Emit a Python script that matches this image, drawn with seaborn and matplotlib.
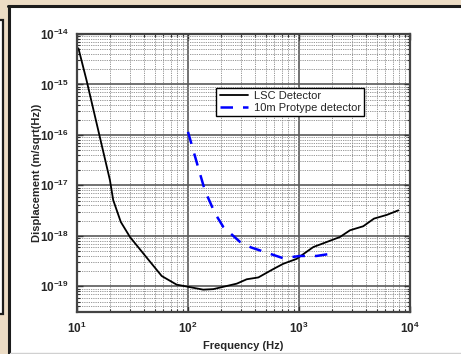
import numpy as np
import pandas as pd
import seaborn as sns
import matplotlib.pyplot as plt
from matplotlib.ticker import LogLocator, FuncFormatter, NullFormatter
from matplotlib.patches import Rectangle
from matplotlib.lines import Line2D

# LSC detector curve
lsc_freq = [10.3, 12.2, 19.8, 21.2, 24.8, 30, 39.5, 58, 79, 100, 137, 169,
            275, 338, 430, 587, 722, 952, 1345, 2340, 2880, 3790, 4740, 6170, 7850]
lsc_disp = [5.2e-15, 1.2e-15, 1.27e-17, 5.1e-18, 1.89e-18, 9.5e-19, 4.5e-19, 1.6e-19,
            1.08e-19, 9.8e-20, 8.6e-20, 8.8e-20, 1.13e-19, 1.38e-19, 1.5e-19, 2.2e-19,
            2.8e-19, 3.5e-19, 6.0e-19, 9.5e-19, 1.29e-18, 1.55e-18, 2.2e-18, 2.6e-18, 3.2e-18]

# 10m prototype detector curve
proto_freq = [100, 124, 142, 175, 208, 294, 370, 476, 722, 1020, 1440, 2040]
proto_disp = [1.15e-16, 2.2e-17, 7.9e-18, 2.8e-18, 1.5e-18, 7.6e-19, 5.9e-19,
              4.9e-19, 3.6e-19, 4.0e-19, 4.0e-19, 4.5e-19]

sns.set_style("ticks")
plt.rcParams['font.family'] = ['Liberation Sans', 'DejaVu Sans']
plt.rcParams['mathtext.fontset'] = 'custom'
plt.rcParams['mathtext.rm'] = 'Liberation Sans:bold'
plt.rcParams['mathtext.bf'] = 'Liberation Sans:bold'

fig = plt.figure(figsize=(4.61, 3.54), dpi=100)
fig.patch.set_facecolor('#ecdcc5')

W, H = 461.0, 354.0
# white panel with dark border on top/left
fig.patches.append(Rectangle((8.5 / W, 1.5 / H), 1, (349 - 1.5) / H, transform=fig.transFigure,
                             facecolor='white', edgecolor='none', zorder=-5))
fig.lines.append(Line2D([9.3 / W, 9.3 / W], [0, (354 - 5.5) / H], transform=fig.transFigure,
                        color='#1c1c1c', lw=2.2))
fig.lines.append(Line2D([8.3 / W, 1], [(354 - 5.8) / H, (354 - 5.8) / H], transform=fig.transFigure,
                        color='#1c1c1c', lw=2.2))
fig.lines.append(Line2D([10 / W, 1], [1.5 / H, 1.5 / H], transform=fig.transFigure,
                        color='#d0d0d0', lw=1))
# partial box on the left edge
fig.patches.append(Rectangle((-5 / W, (354 - 314) / H), 8.5 / W, (314 - 20) / H,
                             transform=fig.transFigure, facecolor='white',
                             edgecolor='#1c1c1c', lw=1.6, zorder=-4))

ax = fig.add_axes([77 / W, (354 - 312) / H, 333 / W, 278 / H])

df_lsc = pd.DataFrame({'freq': lsc_freq, 'disp': lsc_disp})
df_proto = pd.DataFrame({'freq': proto_freq, 'disp': proto_disp})
sns.lineplot(data=df_lsc, x='freq', y='disp', ax=ax, color='black', lw=1.3,
             label='LSC Detector', sort=False)
sns.lineplot(data=df_proto, x='freq', y='disp', ax=ax, color='#0000ff', lw=1.8,
             label='10m Protype detector', sort=False, dashes=False)
ax.lines[1].set_dashes([5, 4])

ax.set_xscale('log')
ax.set_yscale('log')
ax.set_xlim(10, 1e4)
ax.set_ylim(3.1e-20, 1e-14)

ax.xaxis.set_major_locator(LogLocator(base=10, numticks=10))
ax.yaxis.set_major_locator(LogLocator(base=10, numticks=10))
ax.xaxis.set_minor_locator(LogLocator(base=10, subs=np.arange(2, 10), numticks=20))
ax.yaxis.set_minor_locator(LogLocator(base=10, subs=np.arange(2, 10), numticks=20))
fmt = FuncFormatter(lambda v, p: r'$\mathbf{10^{%d}}$' % int(round(np.log10(v))))
ax.xaxis.set_major_formatter(fmt)
ax.yaxis.set_major_formatter(fmt)
ax.xaxis.set_minor_formatter(NullFormatter())
ax.yaxis.set_minor_formatter(NullFormatter())

ax.grid(which='major', color='#5a5a5a', lw=1.2, ls='-')
ax.grid(which='minor', color='#8a8a8a', lw=0.6, ls=(0, (1.5, 1.2)))
ax.set_axisbelow(True)

ax.tick_params(which='both', direction='in', top=True, right=True, color='#333333')
ax.tick_params(which='major', length=4, width=1, labelsize=8.5, pad=6)
ax.tick_params(which='minor', length=2.5, width=0.8)
for s in ax.spines.values():
    s.set_color('#444444')
    s.set_linewidth(1.6)

ax.set_xlabel('Frequency (Hz)', fontsize=8, fontweight='bold', labelpad=4)
ax.set_ylabel('Displacement (m/sqrt(Hz))', fontsize=8, fontweight='bold')
# place the y label where the reference has it
ax.yaxis.set_label_coords((42 - 77) / 333.0, 0.5)

leg = ax.legend(loc='upper right', bbox_to_anchor=(0.88, 0.826), fontsize=8,
                frameon=True, fancybox=False, framealpha=1, edgecolor='black',
                handlelength=2.6, borderpad=0.3, labelspacing=0.15, handletextpad=0.5)
leg.get_frame().set_linewidth(1.0)

fig.savefig('out.png', dpi=100, facecolor=fig.get_facecolor())
